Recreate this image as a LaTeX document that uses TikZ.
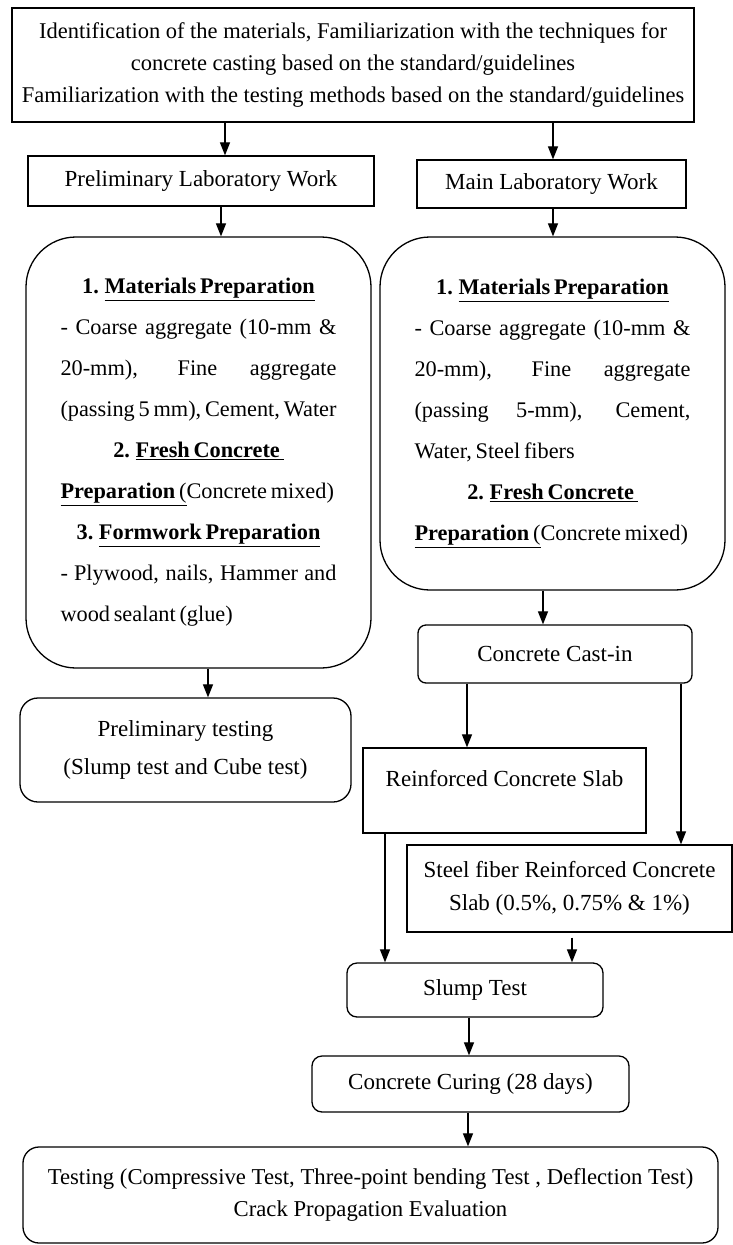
\documentclass[tikz,border=0pt]{standalone}
\usepackage{fontspec}
\setmainfont{Liberation Serif}
\usepackage{tikz}
\usetikzlibrary{arrows.meta}

\newlength{\boxtw}
\setlength{\boxtw}{276pt}
\newcommand{\jline}[1]{\makebox[\boxtw][s]{#1}}
\newcommand{\lline}[1]{\makebox[\boxtw][l]{#1}}
\newcommand{\mline}[1]{\makebox[\boxtw][c]{#1}}
\newcommand{\tightspaces}{\spaceskip=0.17em plus 0.1em minus 0.04em\relax}

\begin{document}
\begin{tikzpicture}[x=1pt,y=-1pt]
      \tikzstyle{every node}=[draw,line width=1.3pt,inner sep=0pt,align=center,font=\fontsize{23}{33}\selectfont]
      \tikzstyle{prepbox}=[rounded corners=50pt,minimum width=345pt,font=\fontsize{22.3}{41}\selectfont\tightspaces]
      \tikzstyle{arr}=[line width=1.2pt,-{Triangle[length=13pt,width=10pt]}]
      \useasboundingbox (0,0) rectangle (733,1245);

      \node[minimum width=682pt,minimum height=114pt,font=\fontsize{22.5}{32}\selectfont] (intro) at (353,65)
        {Identification of the materials, Familiarization with the techniques for\\
         concrete casting based on the standard/guidelines\\
         Familiarization with the testing methods based on the standard/guidelines};

      \node[minimum width=346pt,minimum height=50pt] (prelab) at (201,181) {Preliminary Laboratory Work};
      \node[minimum width=269pt,minimum height=48pt] (mainlab) at (551.5,184) {Main Laboratory Work};

      \node[prepbox,minimum height=431pt] (prelprep) at (198.5,452.5)
        {\mline{\textbf{1. \underline{Materials Preparation}}}\\
         \jline{- Coarse aggregate (10-mm \&}\\
         \jline{20-mm), Fine aggregate}\\
         \jline{(passing 5 mm), Cement, Water}\\
         \mline{\textbf{2. \underline{Fresh Concrete\ }}}\\
         \lline{\underline{\textbf{Preparation} (}Concrete mixed)}\\
         \mline{\textbf{3. \underline{Formwork Preparation}}}\\
         \jline{- Plywood, nails, Hammer and}\\
         \lline{wood sealant (glue)}};

      \node[prepbox,minimum height=353pt] (mainprep) at (552.5,413.5)
        {\mline{\textbf{1. \underline{Materials Preparation}}}\\
         \jline{- Coarse aggregate (10-mm \&}\\
         \jline{20-mm), Fine aggregate}\\
         \jline{(passing 5-mm), Cement,}\\
         \lline{Water, Steel fibers}\\
         \mline{\textbf{2. \underline{Fresh Concrete\ }}}\\
         \lline{\underline{\textbf{Preparation} (}Concrete mixed)}};

      \node[minimum width=274pt,minimum height=58pt,rounded corners=8pt] (castin) at (555,654) {Concrete Cast-in};
      \node[minimum width=331pt,minimum height=104pt,rounded corners=18pt,font=\fontsize{23}{38}\selectfont] (pretest) at (185.5,750)
        {Preliminary testing\\(Slump test and Cube test)};

      \node[minimum width=283pt,text height=38pt,text depth=47pt] (rcslab) at (504.5,790.5) {Reinforced Concrete Slab};
      \node[minimum width=325pt,minimum height=87pt] (sfrc) at (569.5,888.5)
        {Steel fiber Reinforced Concrete\\Slab (0.5\%, 0.75\% \& 1\%)};

      \node[minimum width=256pt,minimum height=54pt,rounded corners=10pt] (slump) at (475,990) {Slump Test};
      \node[minimum width=317pt,minimum height=56pt,rounded corners=10pt] (curing) at (470.5,1084) {Concrete Curing (28 days)};
      \node[minimum width=695pt,minimum height=96pt,rounded corners=16pt,font=\fontsize{22.7}{32}\selectfont] (testing) at (370.5,1195)
        {Testing (Compressive Test, Three-point bending Test , Deflection Test)\\
         Crack Propagation Evaluation};

      \draw[arr] (intro.south -| 225,0) -- (prelab.north -| 225,0);
      \draw[arr] (intro.south -| 553,0) -- (mainlab.north -| 553,0);

      \draw[arr] (prelab.south -| 221,0) -- (prelprep.north -| 221,0);
      \draw[arr] (mainlab.south -| 553,0) -- (mainprep.north -| 553,0);

      \draw[arr] (mainprep.south -| 543,0) -- (castin.north -| 543,0);
      \draw[arr] (prelprep.south -| 208,0) -- (pretest.north -| 208,0);

      \draw[arr] (castin.south -| 467,0) -- (rcslab.north -| 467,0);
      \draw[arr] (castin.south -| 681,0) -- (sfrc.north -| 681,0);

      \draw[arr] (rcslab.south -| 385,0) -- (slump.north -| 385,0);
      \draw[arr] ([yshift=-5pt]sfrc.south -| 572,0) -- (slump.north -| 572,0);

      \draw[arr] (slump.south -| 469,0) -- (curing.north -| 469,0);
      \draw[arr] (curing.south -| 468,0) -- (testing.north -| 468,0);
    \end{tikzpicture}
\end{document}
